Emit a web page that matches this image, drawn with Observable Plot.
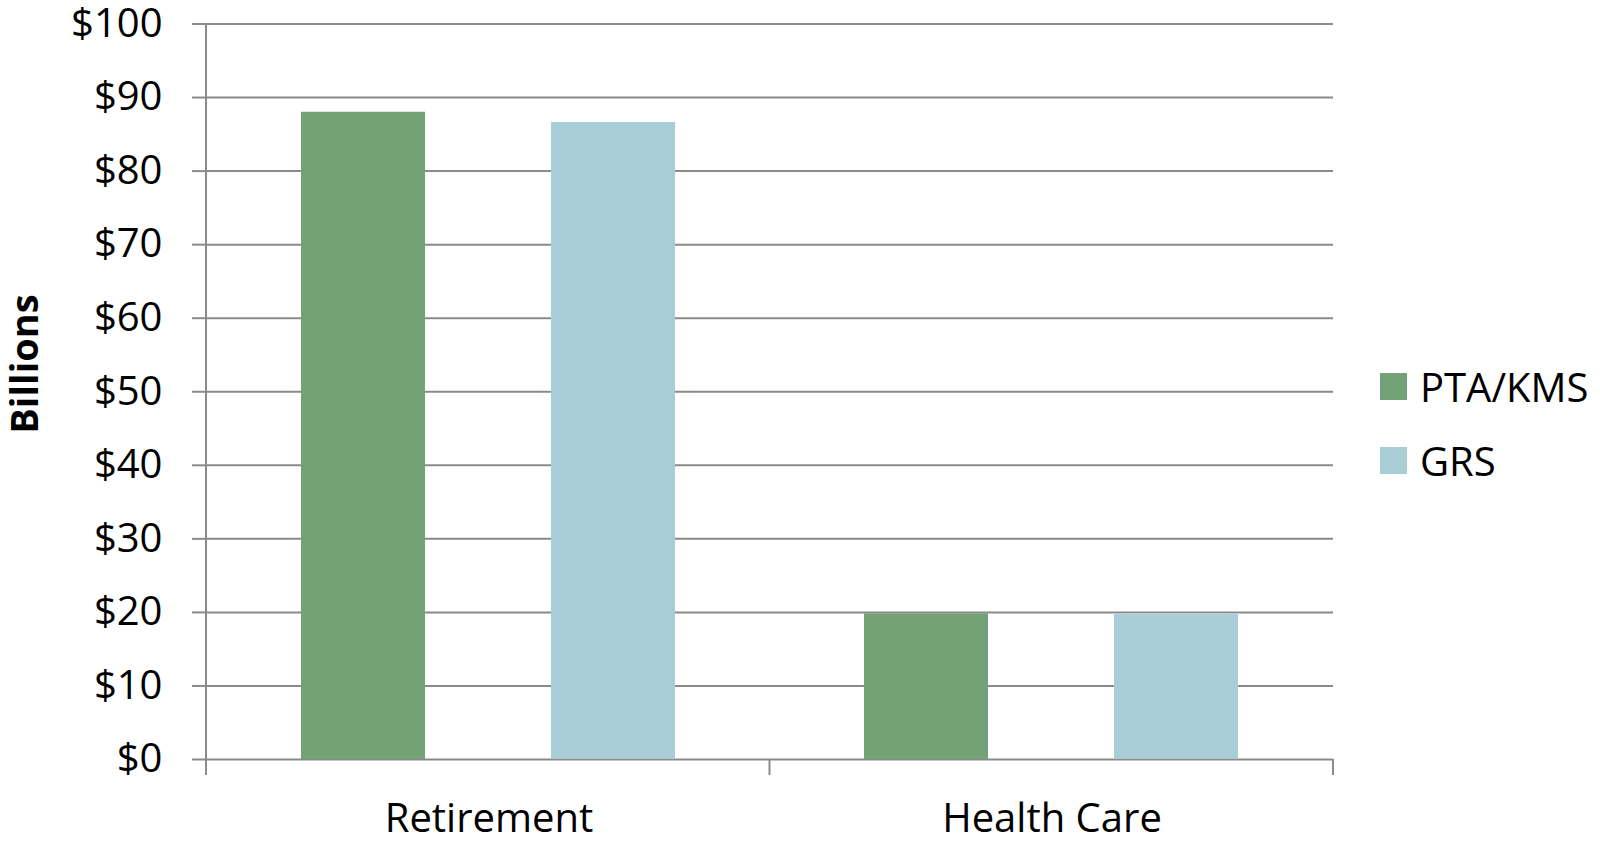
<!DOCTYPE html>
<html><head><meta charset="utf-8">
<script src="https://cdn.jsdelivr.net/npm/d3@7"></script>
<script src="https://cdn.jsdelivr.net/npm/@observablehq/plot@0.6"></script>
<style>
html,body{margin:0;padding:0;background:#fff;overflow:hidden;}
#wrap{position:relative;width:1600px;height:842px;font-family:"Open Sans",sans-serif;color:#000;}
#wrap svg{position:absolute;left:0;top:0;}
#ylabel{position:absolute;left:23px;top:364px;transform:translate(-50%,-50%) rotate(-90deg);font-weight:bold;font-size:38px;white-space:nowrap;line-height:1;}
#legend{position:absolute;left:1380px;top:350px;}
.item{display:flex;align-items:center;height:73.5px;font-size:40px;white-space:nowrap;}
.sw{width:27px;height:27px;margin-right:13px;flex:none;}
</style></head>
<body><div id="wrap"><div id="ylabel">Billions</div><div id="legend"></div></div>
<script>
const categories = ["Retirement", "Health Care"];
const series = ["PTA/KMS", "GRS"];
const ptaKms = [88.0, 19.8];
const grs = [86.6, 19.7];
const yTicks = [0, 10, 20, 30, 40, 50, 60, 70, 80, 90, 100];
const colors = ["#72a276", "#a9cdd6"];

const values = [ptaKms, grs];
const data = categories.flatMap((c, i) => series.map((s, j) => ({category: c, series: s, value: values[j][i]})));

const gridColor = "#8a8a8a";

const chart = Plot.plot({
  width: 1600, height: 842,
  marginLeft: 206, marginRight: 267, marginTop: 23.5, marginBottom: 83,
  style: {fontFamily: "'Open Sans', sans-serif", fontSize: "40px", color: "#000", background: "transparent", overflow: "visible"},
  fx: {domain: categories, padding: 0, label: null},
  x: {domain: series, paddingInner: 0.503, paddingOuter: 0.377, axis: null},
  y: {domain: [0, 100], label: null},
  color: {domain: series, range: colors},
  marks: [
    Plot.ruleY(yTicks, {stroke: gridColor, strokeWidth: 2}),
    Plot.barY(data, {fx: "category", x: "series", y: "value", fill: "series"}),
    Plot.axisY(yTicks, {tickSize: 15, tickPadding: 30, tickFormat: d => "$" + d, stroke: gridColor, strokeWidth: 2, fill: "#000", label: null}),
    Plot.axisFx({anchor: "bottom", tickSize: 0, tickPadding: 44, label: null, fill: "#000"})
  ]
});

const svgEl = chart.tagName.toLowerCase() === "svg" ? chart : chart.querySelector("svg");
document.getElementById("wrap").prepend(chart);

// Axis line and category separator ticks, from the plot's own scales
const fxs = chart.scale("fx");
const ys = chart.scale("y");
const band = d3.scaleBand().domain(fxs.domain).range(fxs.range)
  .paddingInner(fxs.paddingInner ?? fxs.padding ?? 0).paddingOuter(fxs.paddingOuter ?? fxs.padding ?? 0).align(fxs.align ?? 0.5);
const yScale = d3.scaleLinear().domain(ys.domain).range(ys.range);
const y0 = yScale(0), yTop = yScale(100), tickLen = 16;
const bounds = categories.map(c => band(c)).concat([band(categories[categories.length - 1]) + band.bandwidth()]);
const g = d3.select(svgEl).append("g").attr("stroke", gridColor).attr("stroke-width", 2);
bounds.forEach((x, i) => {
  g.append("line").attr("x1", x).attr("x2", x).attr("y1", i === 0 ? yTop : y0).attr("y2", y0 + tickLen);
});

// Legend
const legend = d3.select("#legend");
series.forEach((s, i) => {
  const it = legend.append("div").attr("class", "item");
  it.append("div").attr("class", "sw").style("background", colors[i]);
  it.append("span").text(s);
});
</script>
</body></html>
